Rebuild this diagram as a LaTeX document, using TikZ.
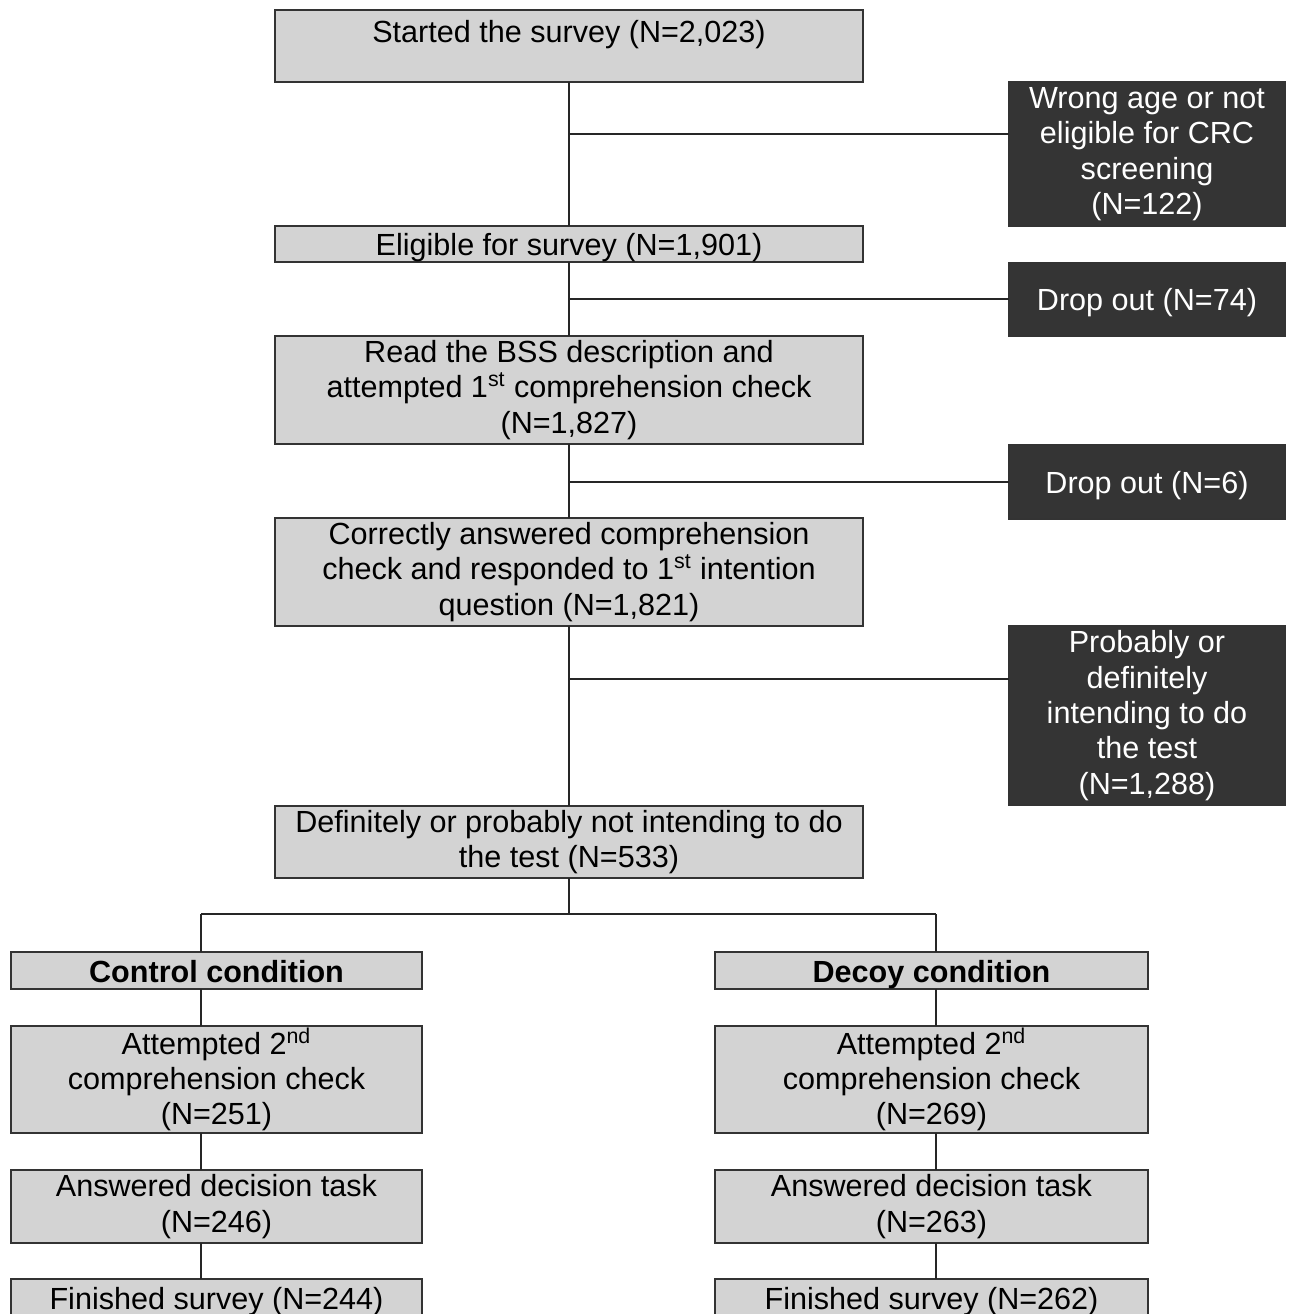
\documentclass[tikz,border=0pt]{standalone}
\usepackage{fontspec}
\setmainfont{Liberation Sans}
\usetikzlibrary{positioning}
\usetikzlibrary{calc}
\definecolor{boxgray}{RGB}{211,211,211}
\definecolor{boxdark}{RGB}{52,52,52}
\tikzset{%
  link/.style = {draw=black!85, line width=0.9pt},
  g/.style = {rectangle,draw=black!80,line width=0.9pt,fill=boxgray,
        inner sep=0pt,outer sep=0pt,align=center,
        font=\fontsize{17.4}{20.1}\selectfont},
  d/.style = {g,fill=boxdark,text=white,minimum width=5.52cm},
  main/.style = {g,minimum width=11.76cm},
  lcol/.style = {g,minimum width=8.22cm},
  rcol/.style = {g,minimum width=8.66cm},
  oneline/.style = {align=none,text height=0.5cm,text depth=0.04cm},
  arm/.style = {oneline,font=\fontsize{17.4}{20.1}\selectfont\bfseries}
}
\begin{document}
\begin{tikzpicture}[x=0.02cm,y=-0.02cm]
    \useasboundingbox (0,0) rectangle (1290,1314);
    % main column
    \node[main,minimum height=1.44cm] (start) at (569,46)
        {Started the survey (N=2,023)\\[-10pt]\strut};
    \node[main,oneline,minimum height=0.72cm] (elig) at (569,244)
        {Eligible for survey (N=1,901)};
    \node[main,minimum height=2.16cm] (read) at (569,390)
        {Read the BSS description and\\
         attempted 1\textsuperscript{st} comprehension check\\
         (N=1,827)};
    \node[main,minimum height=2.16cm] (correct) at (569,572)
        {Correctly answered comprehension\\
         check and responded to 1\textsuperscript{st} intention\\
         question (N=1,821)};
    \node[main,minimum height=1.44cm] (notint) at (569,842)
        {Definitely or probably not intending to do\\
         the test (N=533)};
    % excluded
    \node[d,minimum height=2.88cm] (wrong) at (1147,154)
        {Wrong age or not\\ eligible for CRC\\ screening\\ (N=122)};
    \node[d,oneline,minimum height=1.46cm] (drop1) at (1147,299.5)
        {Drop out (N=74)};
    \node[d,oneline,minimum height=1.48cm] (drop2) at (1147,482)
        {Drop out (N=6)};
    \node[d,minimum height=3.58cm] (prob) at (1147,715.5)
        {Probably or\\ definitely\\ intending to do\\ the test\\ (N=1,288)};
    % two arms
    \node[lcol,arm,minimum height=0.74cm] (ctrl) at (216.5,970.5)
        {Control condition};
    \node[lcol,minimum height=2.14cm] (att1) at (216.5,1079.5)
        {Attempted 2\textsuperscript{nd}\\ comprehension check\\ (N=251)};
    \node[lcol,minimum height=1.46cm] (ans1) at (216.5,1206.5)
        {Answered decision task\\ (N=246)};
    \node[lcol,oneline,minimum height=0.74cm] (fin1) at (216.5,1297.5)
        {Finished survey (N=244)};
    \node[rcol,arm,minimum height=0.74cm] (decoy) at (931.5,970.5)
        {Decoy condition};
    \node[rcol,minimum height=2.14cm] (att2) at (931.5,1079.5)
        {Attempted 2\textsuperscript{nd}\\ comprehension check\\ (N=269)};
    \node[rcol,minimum height=1.46cm] (ans2) at (931.5,1206.5)
        {Answered decision task\\ (N=263)};
    \node[rcol,oneline,minimum height=0.74cm] (fin2) at (931.5,1297.5)
        {Finished survey (N=262)};
    % junctions
    \coordinate (j1) at (569,134);
    \coordinate (j2) at (569,299);
    \coordinate (j3) at (569,482);
    \coordinate (j4) at (569,679);
    \coordinate (split) at (569,914);
    \coordinate (lx) at (201,914);
    \coordinate (rx) at (936,914);
    % connectors
    \draw[link] (start.south) -- (elig.north);
    \draw[link] (elig.south) -- (read.north);
    \draw[link] (read.south) -- (correct.north);
    \draw[link] (correct.south) -- (notint.north);
    \draw[link] (j1) -- (j1 -| wrong.west);
    \draw[link] (j2) -- (j2 -| drop1.west);
    \draw[link] (j3) -- (drop2.west);
    \draw[link] (j4) -- (j4 -| prob.west);
    \draw[link] (notint.south) -- (split);
    \draw[link] (lx) -- (rx);
    \draw[link] (lx) -- (lx |- ctrl.north);
    \draw[link] (rx) -- (rx |- decoy.north);
    \draw[link] (ctrl.south -| lx) -- (att1.north -| lx);
    \draw[link] (att1.south -| lx) -- (ans1.north -| lx);
    \draw[link] (ans1.south -| lx) -- (fin1.north -| lx);
    \draw[link] (decoy.south -| rx) -- (att2.north -| rx);
    \draw[link] (att2.south -| rx) -- (ans2.north -| rx);
    \draw[link] (ans2.south -| rx) -- (fin2.north -| rx);
\end{tikzpicture}
\end{document}
